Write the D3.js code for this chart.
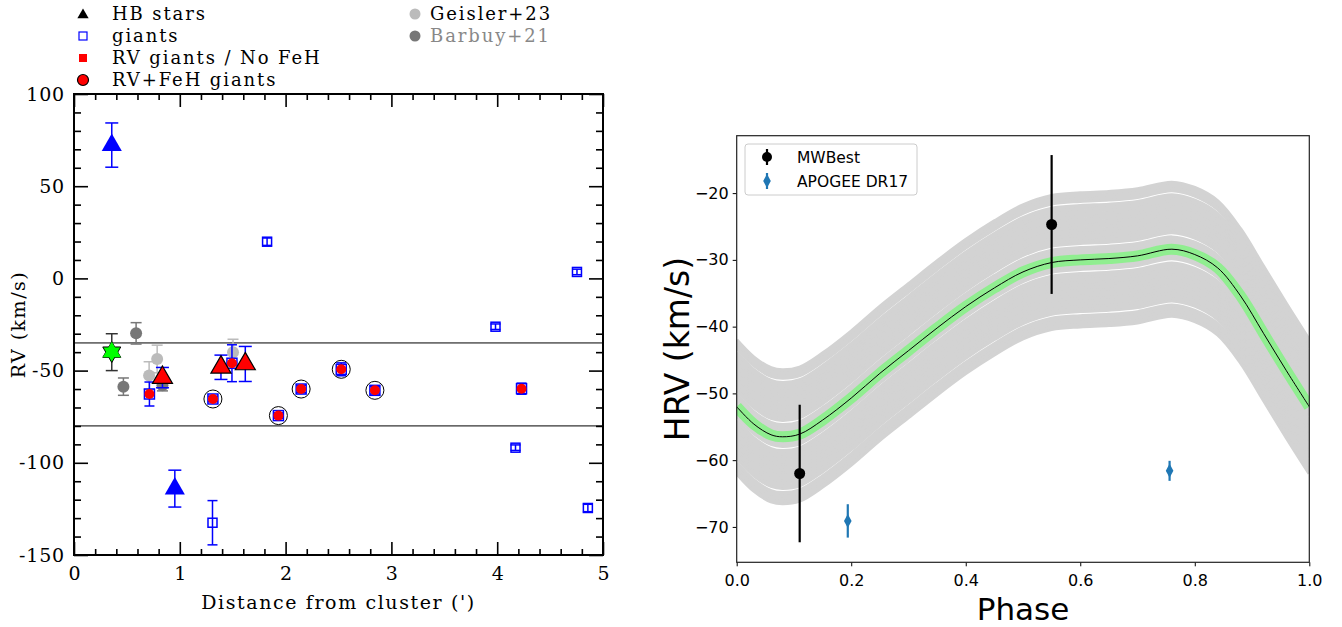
<!DOCTYPE html>
<html>
<head>
<meta charset="utf-8">
<script src="https://cdn.jsdelivr.net/npm/d3@7"></script>
<style>
body { margin: 0; background: #fff; }
svg { display: block; }
</style>
</head>
<body>
<svg id="chart" width="1342" height="627"></svg>
<script>
// ---- left panel: RV vs distance from cluster ----
const hbDist = [0.357, 0.953]
const hbRV = [72.3, -114]
const hbErr = [12, 10]

const hbRvDist = [0.836, 1.389, 1.619]
const hbRvRV = [-53.8, -48.2, -46.4]
const hbRvErr = [5.5, 6.6, 9.5]

const starDist = [0.357]
const starRV = [-40]
const starErr = [10]

const giantDist = [1.825, 3.984, 4.754, 4.173, 4.857, 1.309]
const giantRV = [19.9, -26.2, 3.5, -91.8, -124.5, -132.5]
const giantErr = [2, 1.5, 1.5, 1.5, 2, 12]

const rvGiantDist = [0.713, 1.493, 4.23]
const rvGiantRV = [-62.7, -46, -59.8]
const rvGiantErr = [6.5, 10, 3]

const fehGiantDist = [1.313, 1.932, 2.147, 2.526, 2.844]
const fehGiantRV = [-65.4, -74.4, -60, -49.3, -60.7]
const fehGiantErr = [1.5, 1.5, 2, 3.5, 2]

const geislerDist = [0.71, 0.786, 1.503]
const geislerRV = [-52.7, -43.7, -40]
const geislerErr = [7.5, 7.5, 7]

const barbuyDist = [0.467, 0.587, 0.836]
const barbuyRV = [-58.7, -29.8, -58]
const barbuyErr = [4.7, 5.8, 3]

const rvLimits = [-35, -80]
const distTicks = [0, 1, 2, 3, 4, 5]
const rvTicks = [100, 50, 0, -50, -100, -150]

// ---- right panel: HRV vs phase ----
const templatePhase = [0, 0.03, 0.06, 0.08, 0.11, 0.15, 0.2, 0.25, 0.3, 0.35, 0.4, 0.45, 0.5, 0.55, 0.6, 0.65, 0.7, 0.76, 0.8, 0.84, 0.88, 0.92, 0.96, 1.0]
const templateHRV = [-52, -54.6, -56.2, -56.5, -56.1, -54.0, -50.7, -47.0, -43.6, -40.2, -37.0, -34.2, -31.8, -30.4, -30.0, -29.8, -29.4, -28.4, -29.2, -31.2, -35.4, -41.0, -46.6, -52.0]
// vertical shifts of the sampled template curves (grey band); the wider steps leave the white lines
const bandShift = [-10, -9.6, -9.2, -8.8, -8.4, -7.7, -7.3, -6.9, -6.5, -6.1, -5.7, -5.3, -4.9, -4.5, -4.1, -3.7, -3.3, -2.9, -2.5, -2.1,
    -1.4, -1.0, -0.6, -0.2, 0.2, 0.6, 1.0, 1.4, 1.8, 2.5, 2.9, 3.3, 3.7, 4.1, 4.5, 4.9, 5.3, 5.7, 6.1, 6.5, 6.9, 7.3, 7.7, 8.1,
    8.8, 9.2, 9.6, 10]

const mwPhase = [0.11, 0.55]
const mwHRV = [-62, -24.7]
const mwErr = [10.3, 10.4]

const apoPhase = [0.194, 0.756]
const apoHRV = [-69.1, -61.6]
const apoErr = [2.5, 1.5]

const phaseTicks = [0, 0.2, 0.4, 0.6, 0.8, 1.0]
const hrvTicks = [-20, -30, -40, -50, -60, -70]

const svg = d3.select('#chart')
const serif = 'DejaVu Serif, serif'
const sans = 'DejaVu Sans, sans-serif'

const zip = (xs, ys, es) => xs.map((x, i) => ({ x: x, y: ys[i], e: es[i] }))

const errorBars = (g, data, x, y, color, cap, width) => {
    const eb = g.append('g').attr('stroke', color).attr('stroke-width', width).attr('fill', 'none')
    data.forEach(d => {
        eb.append('line').attr('x1', x(d.x)).attr('x2', x(d.x)).attr('y1', y(d.y + d.e)).attr('y2', y(d.y - d.e))
        if (cap > 0) {
            eb.append('line').attr('x1', x(d.x) - cap / 2).attr('x2', x(d.x) + cap / 2).attr('y1', y(d.y + d.e)).attr('y2', y(d.y + d.e))
            eb.append('line').attr('x1', x(d.x) - cap / 2).attr('x2', x(d.x) + cap / 2).attr('y1', y(d.y - d.e)).attr('y2', y(d.y - d.e))
        }
    })
}

// ================= LEFT =================
const xL = d3.scaleLinear().domain([0, 5]).range([74, 603])
const yL = d3.scaleLinear().domain([-150, 100]).range([555, 94])
const left = svg.append('g')

const majorX = distTicks
const minorX = d3.range(0, 5.01, 0.2).filter(v => Math.abs(v - Math.round(v)) > 0.01)
const majorY = rvTicks
const minorY = d3.range(-150, 101, 10).filter(v => v % 50 !== 0)

const styleAxis = g => {
    g.select('.domain').remove()
    g.selectAll('line').attr('stroke', '#000').attr('stroke-width', 1.6)
}

left.append('g').attr('transform', 'translate(0,555)')
    .call(d3.axisBottom(xL).tickValues(majorX).tickSize(-13).tickPadding(12).tickFormat(d => String(d)))
    .call(styleAxis)
    .selectAll('text').attr('font-family', serif).attr('font-size', 19).attr('fill', '#000')
left.append('g').attr('transform', 'translate(0,555)')
    .call(d3.axisBottom(xL).tickValues(minorX).tickSize(-6).tickFormat(''))
    .call(styleAxis)
left.append('g').attr('transform', 'translate(0,94)')
    .call(d3.axisTop(xL).tickValues(majorX).tickSize(-13).tickFormat(''))
    .call(styleAxis)
left.append('g').attr('transform', 'translate(0,94)')
    .call(d3.axisTop(xL).tickValues(minorX).tickSize(-6).tickFormat(''))
    .call(styleAxis)
left.append('g').attr('transform', 'translate(74,0)')
    .call(d3.axisLeft(yL).tickValues(majorY).tickSize(-14).tickPadding(9).tickFormat(d => String(d)))
    .call(styleAxis)
    .selectAll('text').attr('font-family', serif).attr('font-size', 19).attr('letter-spacing', 0.8).attr('fill', '#000')
left.append('g').attr('transform', 'translate(74,0)')
    .call(d3.axisLeft(yL).tickValues(minorY).tickSize(-7).tickFormat(''))
    .call(styleAxis)
left.append('g').attr('transform', 'translate(603,0)')
    .call(d3.axisRight(yL).tickValues(majorY).tickSize(-14).tickFormat(''))
    .call(styleAxis)
left.append('g').attr('transform', 'translate(603,0)')
    .call(d3.axisRight(yL).tickValues(minorY).tickSize(-7).tickFormat(''))
    .call(styleAxis)

left.append('rect')
    .attr('x', 74).attr('y', 94).attr('width', 603 - 74).attr('height', 555 - 94)
    .attr('fill', 'none').attr('stroke', '#000').attr('stroke-width', 2)

left.selectAll('.limit')
    .data(rvLimits)
    .enter()
    .append('line')
    .attr('x1', xL(0)).attr('x2', xL(5))
    .attr('y1', d => yL(d)).attr('y2', d => yL(d))
    .attr('stroke', '#000').attr('stroke-width', 1)

left.append('text')
    .attr('transform', `translate(25,${(94 + 555) / 2}) rotate(-90)`)
    .attr('text-anchor', 'middle')
    .attr('font-family', serif).attr('font-size', 19).attr('letter-spacing', 1.5)
    .text('RV (km/s)')
left.append('text')
    .attr('x', (74 + 603) / 2).attr('y', 609)
    .attr('text-anchor', 'middle')
    .attr('font-family', serif).attr('font-size', 19).attr('letter-spacing', 1.6)
    .text("Distance from cluster (')")

// literature points
const geisler = zip(geislerDist, geislerRV, geislerErr)
const barbuy = zip(barbuyDist, barbuyRV, barbuyErr)
errorBars(left, barbuy, xL, yL, '#777', 11, 1.5)
left.selectAll('.barbuy').data(barbuy).enter().append('circle')
    .attr('cx', d => xL(d.x)).attr('cy', d => yL(d.y)).attr('r', 6).attr('fill', '#777')
errorBars(left, geisler, xL, yL, '#bbb', 11, 1.5)
left.selectAll('.geisler').data(geisler).enter().append('circle')
    .attr('cx', d => xL(d.x)).attr('cy', d => yL(d.y)).attr('r', 6).attr('fill', '#bbb')

// green star
const star = zip(starDist, starRV, starErr)
errorBars(left, star, xL, yL, '#333', 12, 1.5)
const tri = d3.symbol().type(d3.symbolTriangle).size(140)
star.forEach(d => {
    left.append('path').attr('d', tri())
        .attr('transform', `translate(${xL(d.x)},${yL(d.y)})`)
        .attr('fill', '#00ff00').attr('stroke', '#000').attr('stroke-width', 1)
    left.append('path').attr('d', tri())
        .attr('transform', `translate(${xL(d.x)},${yL(d.y)}) rotate(180)`)
        .attr('fill', '#00ff00').attr('stroke', '#000').attr('stroke-width', 1)
    left.append('path').attr('d', tri())
        .attr('transform', `translate(${xL(d.x)},${yL(d.y)})`)
        .attr('fill', '#00ff00').attr('stroke', 'none')
})

// giants
const giants = zip(giantDist, giantRV, giantErr)
errorBars(left, giants, xL, yL, '#0000ff', 10, 1.5)
left.selectAll('.giant').data(giants).enter().append('rect')
    .attr('x', d => xL(d.x) - 4.5).attr('y', d => yL(d.y) - 4.5)
    .attr('width', 9).attr('height', 9)
    .attr('fill', 'none').attr('stroke', '#0000ff').attr('stroke-width', 1.5)

const rvGiants = zip(rvGiantDist, rvGiantRV, rvGiantErr)
const fehGiants = zip(fehGiantDist, fehGiantRV, fehGiantErr)
const redGiants = rvGiants.concat(fehGiants)
errorBars(left, redGiants, xL, yL, '#0000ff', 10, 1.5)
left.selectAll('.rgbox').data(redGiants).enter().append('rect')
    .attr('x', d => xL(d.x) - 5).attr('y', d => yL(d.y) - 5)
    .attr('width', 10).attr('height', 10)
    .attr('fill', 'none').attr('stroke', '#0000ff').attr('stroke-width', 1.5)
left.selectAll('.rgdot').data(redGiants).enter().append('circle')
    .attr('cx', d => xL(d.x)).attr('cy', d => yL(d.y)).attr('r', 5).attr('fill', '#ff0000')
left.selectAll('.ring').data(fehGiants).enter().append('circle')
    .attr('cx', d => xL(d.x)).attr('cy', d => yL(d.y)).attr('r', 9)
    .attr('fill', 'none').attr('stroke', '#000').attr('stroke-width', 1)

// HB stars
const hb = zip(hbDist, hbRV, hbErr)
const hbRv = zip(hbRvDist, hbRvRV, hbRvErr)
errorBars(left, hb, xL, yL, '#0000ff', 13, 1.5)
errorBars(left, hbRv, xL, yL, '#0000ff', 13, 1.5)
const bigTri = d3.symbol().type(d3.symbolTriangle).size(175)
left.selectAll('.hb').data(hb).enter().append('path')
    .attr('d', bigTri())
    .attr('transform', d => `translate(${xL(d.x)},${yL(d.y)})`)
    .attr('fill', '#0000ff')
left.selectAll('.hbrv').data(hbRv).enter().append('path')
    .attr('d', bigTri())
    .attr('transform', d => `translate(${xL(d.x)},${yL(d.y)})`)
    .attr('fill', '#ff0000').attr('stroke', '#000').attr('stroke-width', 1.2)

// legend (left)
const lg = left.append('g').attr('font-family', serif).attr('font-size', 18).attr('letter-spacing', 1.9)
lg.append('path').attr('d', d3.symbol().type(d3.symbolTriangle).size(55)())
    .attr('transform', 'translate(83,15)').attr('fill', '#000')
lg.append('rect').attr('x', 79).attr('y', 32).attr('width', 8).attr('height', 8)
    .attr('fill', 'none').attr('stroke', '#0000ff').attr('stroke-width', 1.2)
lg.append('rect').attr('x', 79).attr('y', 54).attr('width', 8).attr('height', 8).attr('fill', '#ff0000')
lg.append('circle').attr('cx', 83).attr('cy', 80).attr('r', 5.5)
    .attr('fill', '#ff0000').attr('stroke', '#000').attr('stroke-width', 1.2)
lg.append('circle').attr('cx', 415).attr('cy', 14).attr('r', 5.5).attr('fill', '#bbb')
lg.append('circle').attr('cx', 415).attr('cy', 36).attr('r', 5.5).attr('fill', '#777')
const legendText = [
    { x: 112, y: 20, t: 'HB stars', c: '#000' },
    { x: 112, y: 42, t: 'giants', c: '#000' },
    { x: 112, y: 64, t: 'RV giants / No FeH', c: '#000' },
    { x: 112, y: 86, t: 'RV+FeH giants', c: '#000' },
    { x: 430, y: 20, t: 'Geisler+23', c: '#000' },
    { x: 430, y: 42, t: 'Barbuy+21', c: '#888' }
]
lg.selectAll('text').data(legendText).enter().append('text')
    .attr('x', d => d.x).attr('y', d => d.y).attr('fill', d => d.c).text(d => d.t)

// ================= RIGHT =================
const xR = d3.scaleLinear().domain([0, 1]).range([736.7, 1309.3])
const yR = d3.scaleLinear().domain([-75.3, -11.4]).range([562.3, 135.7])
const right = svg.append('g')

svg.append('defs').append('clipPath').attr('id', 'clipR')
    .append('rect').attr('x', 736.7).attr('y', 135.7).attr('width', 1309.3 - 736.7).attr('height', 562.3 - 135.7)

const template = templatePhase.map((p, i) => ({ p: p, v: templateHRV[i] }))
const curve = shift => d3.line()
    .x(d => xR(d.p))
    .y(d => yR(d.v + shift))
    .curve(d3.curveCatmullRom.alpha(0.5))

const plot = right.append('g').attr('clip-path', 'url(#clipR)')
plot.selectAll('.band').data(bandShift).enter().append('path')
    .attr('d', s => curve(s)(template))
    .attr('fill', 'none').attr('stroke', '#d3d3d3').attr('stroke-width', 3.6)
plot.append('path').attr('d', curve(0)(template))
    .attr('fill', 'none').attr('stroke', '#90ee90').attr('stroke-width', 11)
plot.append('path').attr('d', curve(0)(template))
    .attr('fill', 'none').attr('stroke', '#000').attr('stroke-width', 1)

const mw = zip(mwPhase, mwHRV, mwErr)
const apo = zip(apoPhase, apoHRV, apoErr)
errorBars(right, mw, xR, yR, '#000', 0, 2.2)
right.selectAll('.mw').data(mw).enter().append('circle')
    .attr('cx', d => xR(d.x)).attr('cy', d => yR(d.y)).attr('r', 5.5).attr('fill', '#000')
errorBars(right, apo, xR, yR, '#1f77b4', 0, 2.2)
const diamond = 'M0,-7L3.8,0L0,7L-3.8,0Z'
right.selectAll('.apo').data(apo).enter().append('path')
    .attr('d', diamond)
    .attr('transform', d => `translate(${xR(d.x)},${yR(d.y)})`)
    .attr('fill', '#1f77b4')

right.append('g').attr('transform', 'translate(0,562.3)')
    .call(d3.axisBottom(xR).tickValues(phaseTicks).tickSize(4).tickPadding(8).tickFormat(d3.format('.1f')))
    .call(g => g.select('.domain').remove())
    .selectAll('text').attr('font-family', sans).attr('font-size', 16).attr('fill', '#000')
right.append('g').attr('transform', 'translate(736.7,0)')
    .call(d3.axisLeft(yR).tickValues(hrvTicks).tickSize(4).tickPadding(4).tickFormat(d3.format('d')))
    .call(g => g.select('.domain').remove())
    .selectAll('text').attr('font-family', sans).attr('font-size', 16).attr('fill', '#000')
right.append('rect')
    .attr('x', 736.7).attr('y', 135.7).attr('width', 1309.3 - 736.7).attr('height', 562.3 - 135.7)
    .attr('fill', 'none').attr('stroke', '#222').attr('stroke-width', 1.2)

right.append('text')
    .attr('transform', `translate(${689},${(135.7 + 562.3) / 2}) rotate(-90)`)
    .attr('text-anchor', 'middle')
    .attr('font-family', sans).attr('font-size', 33)
    .text('HRV (km/s)')
right.append('text')
    .attr('x', (736.7 + 1309.3) / 2).attr('y', 620)
    .attr('text-anchor', 'middle')
    .attr('font-family', sans).attr('font-size', 31)
    .text('Phase')

// legend (right)
const rl = right.append('g')
rl.append('rect').attr('x', 745).attr('y', 144).attr('width', 172).attr('height', 51).attr('rx', 3)
    .attr('fill', '#fff').attr('fill-opacity', 0.8).attr('stroke', '#ccc').attr('stroke-width', 1)
rl.append('line').attr('x1', 767).attr('x2', 767).attr('y1', 149).attr('y2', 165).attr('stroke', '#000').attr('stroke-width', 2.2)
rl.append('circle').attr('cx', 767).attr('cy', 157).attr('r', 5).attr('fill', '#000')
rl.append('line').attr('x1', 767).attr('x2', 767).attr('y1', 173).attr('y2', 189).attr('stroke', '#1f77b4').attr('stroke-width', 2.2)
rl.append('path').attr('d', diamond).attr('transform', 'translate(767,181)').attr('fill', '#1f77b4')
rl.append('text').attr('x', 797).attr('y', 162.5).attr('font-family', sans).attr('font-size', 15.5).text('MWBest')
rl.append('text').attr('x', 797).attr('y', 186.5).attr('font-family', sans).attr('font-size', 15.5).text('APOGEE DR17')
</script>
</body>
</html>
